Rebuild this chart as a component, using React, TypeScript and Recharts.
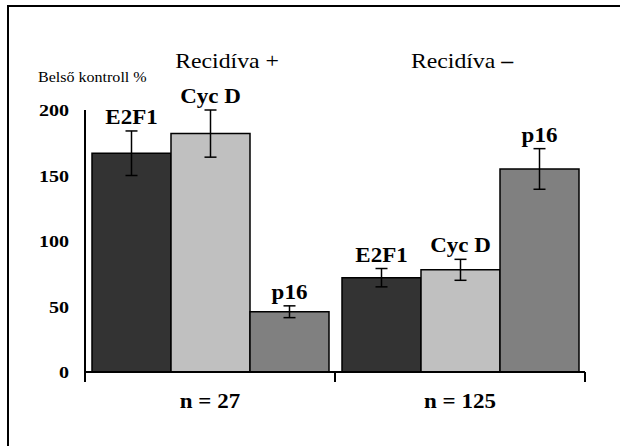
import React from "react";
import { BarChart, Bar, XAxis, YAxis, ErrorBar, LabelList, Customized } from "recharts";

const categories = ["n = 27", "n = 125"];
const seriesNames = ["E2F1", "Cyc D", "p16"];
const e2f1Values = [167, 72];
const e2f1Errors = [17, 7];
const cycDValues = [182, 78];
const cycDErrors = [18, 8];
const p16Values = [46, 155];
const p16Errors = [4.5, 15.5];
const yTicks = [0, 50, 100, 150, 200];
const groupTitles = ["Recidíva +", "Recidíva "];
const yAxisTitle = "Belső kontroll %";

const data = categories.map((cat, i) => ({
  cat,
  e2f1: e2f1Values[i],
  e2f1Err: e2f1Errors[i],
  cycd: cycDValues[i],
  cycdErr: cycDErrors[i],
  p16: p16Values[i],
  p16Err: p16Errors[i],
}));

const FONT = "Liberation Serif";
const BOLD_SX = 1.15;
const REG_SX = 1.08;

const YTick = (props: any) => {
  const { x, y, payload } = props;
  return (
    <text
      transform={`translate(${x},${y}) scale(1.18,1)`}
      textAnchor="end"
      dy="0.36em"
      fontFamily={FONT}
      fontWeight="bold"
      fontSize={17}
      fill="#000"
    >
      {payload.value}
    </text>
  );
};

const XTick = (props: any) => {
  const { x, y, payload, width, visibleTicksCount } = props;
  const half = width && visibleTicksCount ? width / visibleTicksCount / 2 : 125;
  return (
    <g>
      <line x1={x - half} y1={y} x2={x - half} y2={y + 10} stroke="#000" strokeWidth={2} />
      <line x1={x + half} y1={y} x2={x + half} y2={y + 10} stroke="#000" strokeWidth={2} />
      <text
        transform={`translate(${x},${y + 36}) scale(${BOLD_SX},1)`}
        textAnchor="middle"
        fontFamily={FONT}
        fontWeight="bold"
        fontSize={20}
        fill="#000"
      >
        {payload.value}
      </text>
    </g>
  );
};

const makeLabel = (name: string, errs: number[], vals: number[]) => (props: any) => {
  const { x, y, width, height, index } = props;
  const pxPerUnit = height / vals[index];
  const top = y - errs[index] * pxPerUnit;
  return (
    <text
      transform={`translate(${x + width / 2},${top - 7}) scale(${BOLD_SX},1)`}
      textAnchor="middle"
      fontFamily={FONT}
      fontWeight="bold"
      fontSize={20}
      fill="#000"
    >
      {name}
    </text>
  );
};

const Decorations = () => (
  <g>
    <line x1={8} y1={6} x2={620} y2={6} stroke="#000" strokeWidth={2} />
    <line x1={8} y1={5} x2={8} y2={446} stroke="#000" strokeWidth={2} />
    <text
      transform={`translate(227,68) scale(${REG_SX},1)`}
      textAnchor="middle"
      fontFamily={FONT}
      fontSize={22}
      fill="#000"
    >
      {groupTitles[0]}
    </text>
    <text
      transform={`translate(462,68) scale(${REG_SX},1)`}
      textAnchor="middle"
      fontFamily={FONT}
      fontSize={22}
      fill="#000"
    >
      {groupTitles[1]}
      <tspan fontWeight="bold">–</tspan>
    </text>
    <text
      transform={`translate(38,82) scale(1.07,1)`}
      textAnchor="start"
      fontFamily={FONT}
      fontSize={15}
      fill="#000"
    >
      {yAxisTitle}
    </text>
  </g>
);

export default function App() {
  return (
    <div style={{ position: "absolute", left: 0, top: 0, width: 620, height: 446, background: "#fff" }}>
      <BarChart
        width={620}
        height={446}
        data={data}
        margin={{ top: 110, right: 35, bottom: 34, left: 25 }}
        barCategoryGap="2.8%"
        barGap={0}
      >
        <XAxis
          dataKey="cat"
          interval={0}
          tickLine={false}
          tickSize={0}
          tickMargin={0}
          height={40}
          axisLine={{ stroke: "#000", strokeWidth: 2 }}
          tick={<XTick />}
        />
        <YAxis
          domain={[0, 200]}
          ticks={yTicks}
          interval={0}
          width={60}
          tickLine={false}
          tickSize={6}
          tickMargin={10}
          axisLine={{ stroke: "#000", strokeWidth: 2 }}
          tick={<YTick />}
        />
        <Bar dataKey="e2f1" fill="#333333" stroke="#000" strokeWidth={1.5} isAnimationActive={false}>
          <ErrorBar dataKey="e2f1Err" width={6} stroke="#000" strokeWidth={1.5} direction="y" />
          <LabelList content={makeLabel(seriesNames[0], e2f1Errors, e2f1Values)} />
        </Bar>
        <Bar dataKey="cycd" fill="#c0c0c0" stroke="#000" strokeWidth={1.5} isAnimationActive={false}>
          <ErrorBar dataKey="cycdErr" width={6} stroke="#000" strokeWidth={1.5} direction="y" />
          <LabelList content={makeLabel(seriesNames[1], cycDErrors, cycDValues)} />
        </Bar>
        <Bar dataKey="p16" fill="#808080" stroke="#000" strokeWidth={1.5} isAnimationActive={false}>
          <ErrorBar dataKey="p16Err" width={6} stroke="#000" strokeWidth={1.5} direction="y" />
          <LabelList content={makeLabel(seriesNames[2], p16Errors, p16Values)} />
        </Bar>
        <Customized component={Decorations} />
      </BarChart>
    </div>
  );
}
